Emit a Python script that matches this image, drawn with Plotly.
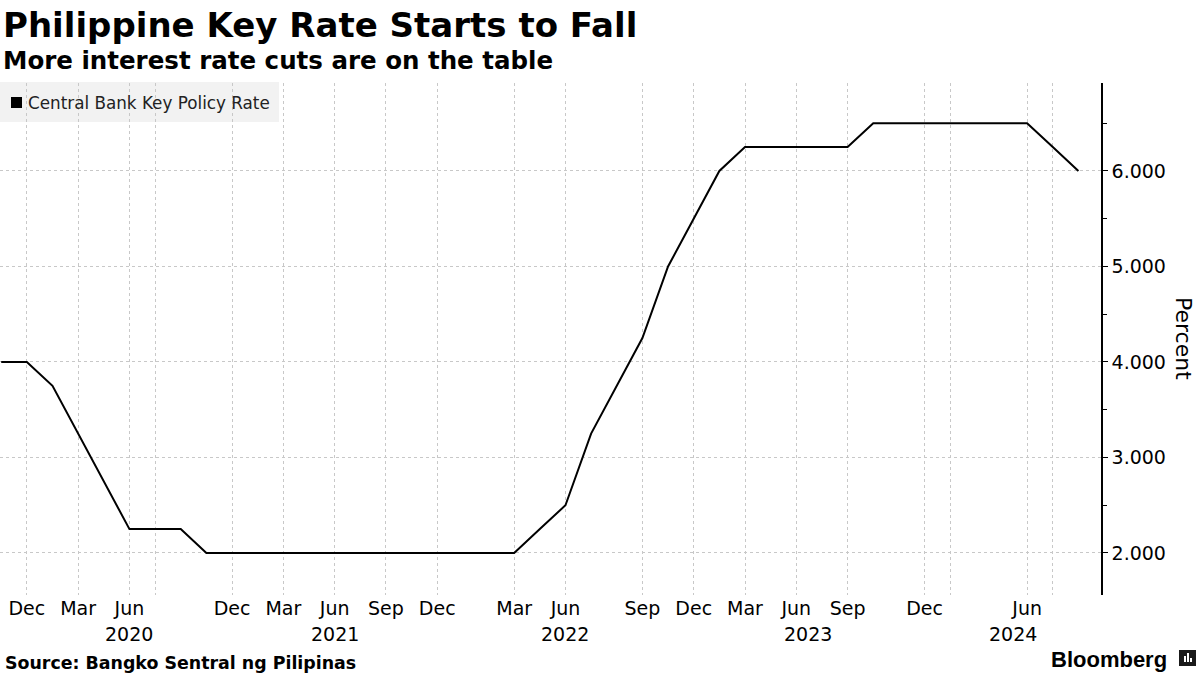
import plotly.graph_objects as go

# ---- data -----------------------------------------------------------------
dates = [
    "2019-11-14", "2019-12-12", "2020-02-06", "2020-03-19", "2020-04-16",
    "2020-06-25", "2020-08-20", "2020-10-01", "2020-11-19", "2020-12-17",
    "2021-02-11", "2021-03-25", "2021-05-13", "2021-06-24", "2021-08-12",
    "2021-09-23", "2021-11-18", "2021-12-16", "2022-01-20", "2022-02-17",
    "2022-03-24", "2022-05-19", "2022-06-23", "2022-07-14", "2022-08-18",
    "2022-09-22", "2022-11-17", "2022-12-15", "2023-02-16", "2023-03-23",
    "2023-05-18", "2023-06-22", "2023-08-17", "2023-09-21", "2023-10-26",
    "2023-11-16", "2023-12-14", "2024-02-15", "2024-04-04", "2024-05-16",
    "2024-06-27", "2024-08-15", "2024-10-16",
]
policy_rate = [
    4.00, 4.00, 3.75, 3.25, 2.75,
    2.25, 2.25, 2.25, 2.00, 2.00,
    2.00, 2.00, 2.00, 2.00, 2.00,
    2.00, 2.00, 2.00, 2.00, 2.00,
    2.00, 2.25, 2.50, 3.25, 3.75,
    4.25, 5.00, 5.50, 6.00, 6.25,
    6.25, 6.25, 6.25, 6.25, 6.50,
    6.50, 6.50, 6.50, 6.50, 6.50,
    6.50, 6.25, 6.00,
]
tick_dates = [
    "2019-12-12", "2020-03-19", "2020-06-25", "2020-08-20", "2020-12-17",
    "2021-03-25", "2021-06-24", "2021-09-23", "2021-12-16", "2022-03-24",
    "2022-06-23", "2022-09-22", "2022-12-15", "2023-03-23", "2023-06-22",
    "2023-09-21", "2023-12-14", "2024-02-15", "2024-06-27", "2024-08-15",
]
tick_labels = [
    "Dec", "Mar", "Jun", "", "Dec",
    "Mar", "Jun", "Sep", "Dec", "Mar",
    "Jun", "Sep", "Dec", "Mar", "Jun",
    "Sep", "Dec", "", "Jun", "",
]
year_labels = ["2020", "2021", "2022", "2023", "2024"]
year_positions = [5, 13, 22, 31.45, 39.45]   # category serial positions

series_name = "Central Bank Key Policy Rate"
title = "Philippine Key Rate Starts to Fall"
subtitle = "More interest rate cuts are on the table"
source = "Source: Bangko Sentral ng Pilipinas"

# ---- layout geometry --------------------------------------------------------
W, H = 1200, 675
ML, MR, MT, MB = 0, 99, 83, 80
PW, PH = W - ML - MR, H - MT - MB


def px(x):
    return (x - ML) / PW


def py(y):
    return (H - MB - y) / PH


FONT = "DejaVu Sans"

fig = go.Figure()
fig.add_trace(go.Scatter(
    x=dates, y=policy_rate, mode="lines", name=series_name,
    line=dict(color="black", width=2), showlegend=False,
))

annotations = [
    dict(text=f"<b>{title}</b>", x=px(1), y=py(25), xref="paper", yref="paper",
         xanchor="left", yanchor="middle", showarrow=False,
         font=dict(family=FONT, size=34, color="black")),
    dict(text=f"<b>{subtitle}</b>", x=px(1), y=py(60), xref="paper", yref="paper",
         xanchor="left", yanchor="middle", showarrow=False,
         font=dict(family=FONT, size=24.5, color="black")),
    dict(text=series_name, x=px(26), y=py(103), xref="paper", yref="paper",
         xanchor="left", yanchor="middle", showarrow=False,
         font=dict(family=FONT, size=16.8, color="#222222")),
    dict(text="Percent", x=px(1184), y=py(339), xref="paper", yref="paper",
         xanchor="center", yanchor="middle", showarrow=False, textangle=90,
         font=dict(family=FONT, size=22, color="black")),
    dict(text=f"<b>{source}</b>", x=px(3), y=py(663), xref="paper", yref="paper",
         xanchor="left", yanchor="middle", showarrow=False,
         font=dict(family=FONT, size=17.4, color="black")),
    dict(text="<b>Bloomberg</b>", x=px(1169), y=py(659), xref="paper", yref="paper",
         xanchor="right", yanchor="middle", showarrow=False,
         font=dict(family="Liberation Sans", size=22, color="black")),
]
for lbl, pos in zip(year_labels, year_positions):
    annotations.append(dict(
        text=lbl, x=pos, y=py(634), xref="x", yref="paper",
        xanchor="center", yanchor="middle", showarrow=False,
        font=dict(family=FONT, size=19, color="black")))

shapes = [
    dict(type="rect", xref="paper", yref="paper", x0=px(0), x1=px(279),
         y0=py(122), y1=py(82), fillcolor="#f2f2f2", line=dict(width=0),
         layer="below"),
    dict(type="rect", xref="paper", yref="paper", x0=px(11), x1=px(22),
         y0=py(108), y1=py(97), fillcolor="black", line=dict(width=0)),
    # small logo mark next to "Bloomberg"
    dict(type="rect", xref="paper", yref="paper", x0=px(1179), x1=px(1196),
         y0=py(666), y1=py(650), fillcolor="#1a1a1a", line=dict(width=0)),
]
for bx0, bx1, btop in [(1184, 1186, 656), (1187, 1189, 653), (1190, 1192, 658)]:
    shapes.append(dict(type="rect", xref="paper", yref="paper",
                       x0=px(bx0), x1=px(bx1), y0=py(662), y1=py(btop),
                       fillcolor="white", line=dict(width=0)))

fig.update_layout(
    width=W, height=H,
    margin=dict(l=ML, r=MR, t=MT, b=MB),
    paper_bgcolor="white", plot_bgcolor="rgba(0,0,0,0)",
    showlegend=False,
    annotations=annotations,
    shapes=shapes,
    font=dict(family=FONT, size=19, color="black"),
)
fig.update_xaxes(
    type="category", categoryorder="array", categoryarray=dates,
    range=[-0.047, 42.88],
    tickmode="array", tickvals=tick_dates, ticktext=tick_labels,
    showgrid=True, gridcolor="#c8c8c8", griddash="dot", gridwidth=1,
    showline=False, ticks="", zeroline=False,
    tickfont=dict(family=FONT, size=19, color="black"),
)
fig.update_yaxes(
    side="right", range=[1.56, 6.921],
    tickmode="linear", tick0=2, dtick=1, tickformat=".3f",
    showgrid=True, gridcolor="#c8c8c8", griddash="dot", gridwidth=1,
    showline=True, linecolor="black", linewidth=1.5,
    ticks="outside", ticklen=5, tickcolor="black", tickwidth=1,
    minor=dict(tickmode="linear", tick0=2, dtick=0.5, ticks="outside",
               ticklen=4, tickcolor="black", showgrid=False),
    zeroline=False,
    tickfont=dict(family=FONT, size=19, color="black"),
)

fig.write_html(
    "out.html",
    config={"displayModeBar": False},
    post_script="document.body.style.margin='0';document.body.style.padding='0';",
)
